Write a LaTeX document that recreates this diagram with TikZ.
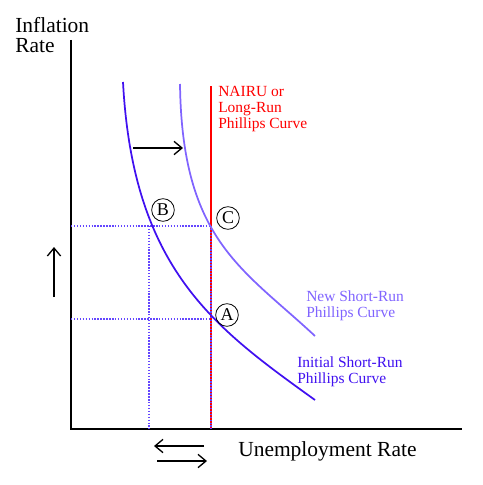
\documentclass[tikz,border=0pt]{standalone}
\usepackage{fontspec}
\setmainfont{Liberation Serif}
\usetikzlibrary{arrows.meta}
\definecolor{curveA}{RGB}{64,16,240}
\definecolor{curveB}{RGB}{128,100,255}
\definecolor{dotcol}{RGB}{100,70,255}
\definecolor{lrred}{RGB}{255,0,0}
\begin{document}
\begin{tikzpicture}[x=0.75pt,y=-0.75pt,
  axis/.style={line width=1.5pt,black},
  srpc/.style={line width=1.3pt},
  guide/.style={dotcol,line width=1.1pt,dash pattern=on 1.1pt off 1.1pt},
  shiftarrow/.style={line width=1pt,-{Straight Barb[length=6pt,width=10pt,line width=1pt]}},
  bigtext/.style={font=\fontsize{16.1}{19}\selectfont,inner sep=0pt,anchor=base west},
  smalltext/.style={font=\fontsize{11.6}{14}\selectfont,inner sep=0pt,anchor=base west},
  ptlabel/.style={circle,draw,line width=0.6pt,minimum size=17pt,inner sep=0pt,font=\fontsize{13.5}{14}\selectfont}
]
\useasboundingbox (0,0) rectangle (482,485);
% axes
\coordinate (origin) at (71,429);
\coordinate (ytop) at (71,40);
\coordinate (xend) at (462,429);
\draw[axis] (ytop) -- (origin) -- (xend);
% guides
\coordinate (gB) at (149,226);
\coordinate (gC) at (211,226);
\coordinate (gA) at (211,319);
\coordinate (yC) at (71,226);
\coordinate (yA) at (71,319);
\coordinate (xB) at (149,429);
\coordinate (xA) at (211,429);
\coordinate (rtop) at (211,86);
\draw[lrred,line width=1.2pt] (rtop) -- (xA);
\draw[guide] (yC) -- (gC);
\draw[guide] (yA) -- (gA);
\draw[guide] (gB) -- (xB);
\draw[guide] (gC) -- (xA);
% curves
\coordinate (i0) at (123,82);
\coordinate (i3) at (315,400);
\coordinate (n0) at (180,84);
\coordinate (n3) at (315,336);
\draw[srpc,curveA] (i0) .. controls (133,270) and (215,328) .. (i3);
\draw[srpc,curveB] (n0) .. controls (182,240) and (242,268) .. (n3);
% point labels
\node[ptlabel] (B) at (163,210) {B};
\node[ptlabel] (C) at (228,218) {C};
\node[ptlabel] (A) at (227,315) {A};
% arrows
\coordinate (r1) at (133,148);
\coordinate (r2) at (183,148);
\draw[shiftarrow] (r1) -- (r2);
\coordinate (u1) at (54,297);
\coordinate (u2) at (54,247);
\draw[shiftarrow] (u1) -- (u2);
\coordinate (l1) at (204,446);
\coordinate (l2) at (154,446);
\draw[shiftarrow] (l1) -- (l2);
\coordinate (b1) at (157,461);
\coordinate (b2) at (207,461);
\draw[shiftarrow] (b1) -- (b2);
% texts
\node[bigtext] (infl) at (15,33) {Inflation};
\node[bigtext] (rate) at (15,53) {Rate};
\node[bigtext] (unemp) at (238,456) {Unemployment Rate};
\node[smalltext,lrred] (n1) at (218,96) {NAIRU or};
\node[smalltext,lrred] (n2) at (218,112) {Long-Run};
\node[smalltext,lrred] (n3t) at (218,128) {Phillips Curve};
\node[smalltext,curveB] (s1) at (306,301) {New Short-Run};
\node[smalltext,curveB] (s2) at (306,317) {Phillips Curve};
\node[smalltext,curveA] (t1) at (297,367) {Initial Short-Run};
\node[smalltext,curveA] (t2) at (297,383) {Phillips Curve};
\end{tikzpicture}
\end{document}
